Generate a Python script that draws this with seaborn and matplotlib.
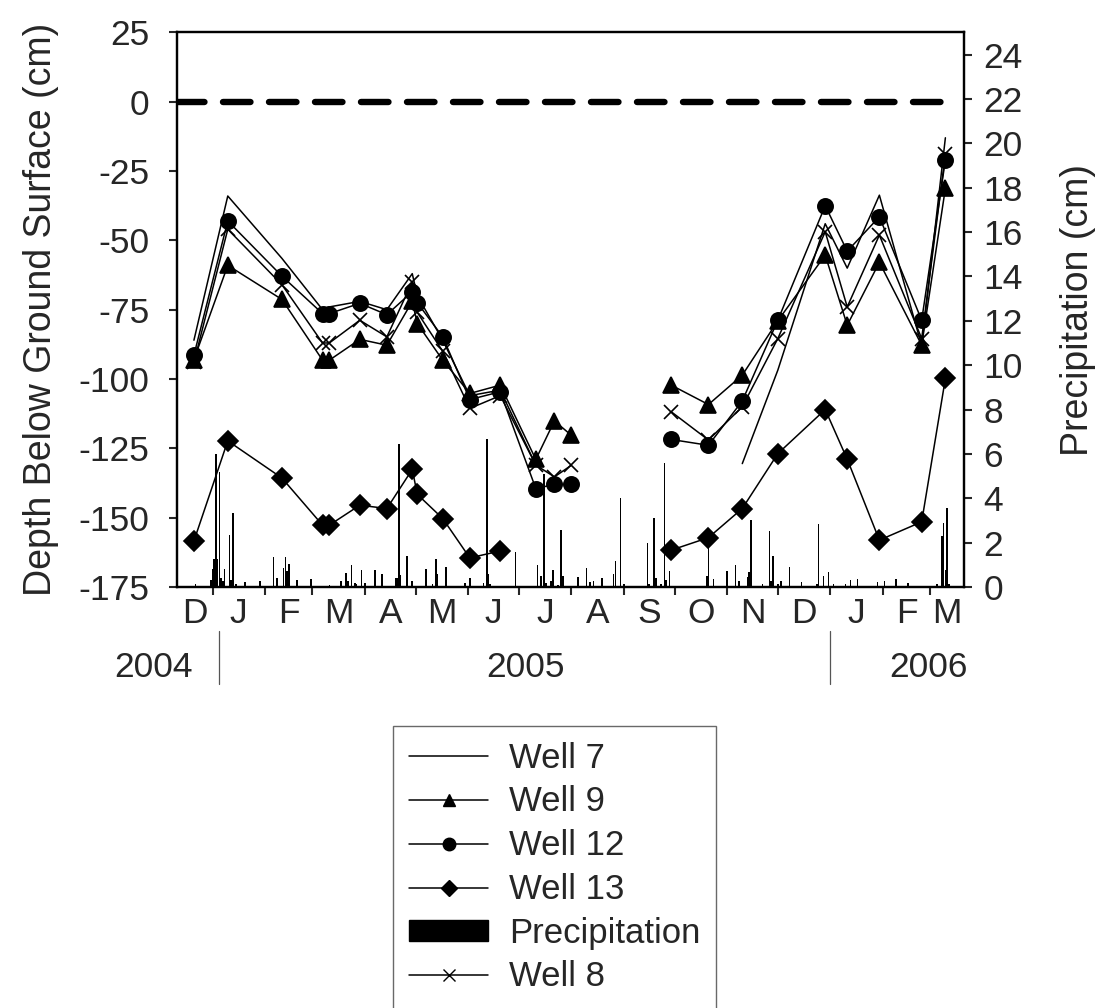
import numpy as np
import pandas as pd
import matplotlib
matplotlib.use("Agg")
import matplotlib.pyplot as plt
import matplotlib.dates as mdates
from matplotlib.lines import Line2D
from matplotlib.patches import Patch
import seaborn as sns

# ---------------- data ----------------
# well sampling dates (two monitoring periods)
dates_a = ["2004-12-21", "2005-01-10", "2005-02-11", "2005-03-07", "2005-03-11",
           "2005-03-29", "2005-04-14", "2005-04-29", "2005-05-02", "2005-05-17",
           "2005-06-02", "2005-06-20", "2005-07-11", "2005-07-22", "2005-08-01"]
dates_b = ["2005-09-29", "2005-10-21", "2005-11-10", "2005-12-01", "2005-12-29",
           "2006-01-11", "2006-01-30", "2006-02-24", "2006-03-10"]

nan = np.nan
well7_a = [-86, -34, -56.5, -75, -74, -72, -75, -62, -70, -86, -106, -104, -131, nan, nan]
well7_b = [nan, nan, -130.5, -96.8, -44, -60, -33.7, -88, -13]
well9_a = [-93, -59, -71.3, -93.2, -93.2, -85.7, -87.8, -72, -80, -93.2, -105.2, -102.2,
           -129, -115.1, -120.3]
well9_b = [-102.2, -109.2, -98.6, -79, -55.3, -80.6, -57.9, -87.8, -31.2]
well12_a = [-91.4, -43, -62.9, -76.4, -76.4, -72.7, -76.8, -68.5, -72.5, -84.8, -107.4,
            -104.6, -139.5, -138, -138]
well12_b = [-121.8, -123.9, -107.9, -78.8, -37.5, -53.9, -41.5, -78.8, -21]
well13_a = [-158.4, -122.3, -135.7, -152.7, -152.7, -145.5, -146.7, -132.6, -141.6,
            -150.3, -164.5, -162, nan, nan, nan]
well13_b = [-161.7, -157.2, -146.7, -126.9, -111, -128.9, -158.1, -151.5, -99.8]
well8_a = [-94, -46, -66, -87, -87, -78.8, -84.8, -65, -76, -90, -110.6, -106, -131,
           -135.3, -131.1]
well8_b = [-111.8, -122, -110, -85.4, -46.9, -74, -48.1, -85.4, -19]

# daily precipitation (cm), days with rain only
precip_dates = [
    "2004-12-22", "2004-12-31", "2005-01-01", "2005-01-02", "2005-01-03", "2005-01-04",
    "2005-01-05", "2005-01-06", "2005-01-07", "2005-01-08", "2005-01-11", "2005-01-12",
    "2005-01-13", "2005-01-15", "2005-01-20", "2005-01-29",
    "2005-02-06", "2005-02-08", "2005-02-12", "2005-02-13", "2005-02-14", "2005-02-15",
    "2005-02-20", "2005-02-28",
    "2005-03-11", "2005-03-18", "2005-03-21", "2005-03-22", "2005-03-24", "2005-03-26",
    "2005-03-27", "2005-03-30",
    "2005-04-01", "2005-04-07", "2005-04-11", "2005-04-19", "2005-04-20", "2005-04-21",
    "2005-04-22", "2005-04-26", "2005-04-29",
    "2005-05-07", "2005-05-11", "2005-05-13", "2005-05-14", "2005-05-19", "2005-05-30",
    "2005-06-02", "2005-06-10", "2005-06-12", "2005-06-13", "2005-06-14", "2005-06-29",
    "2005-07-12", "2005-07-14", "2005-07-16", "2005-07-17", "2005-07-20", "2005-07-21",
    "2005-07-24", "2005-07-26", "2005-07-27",
    "2005-08-05", "2005-08-10", "2005-08-12", "2005-08-14", "2005-08-19", "2005-08-26",
    "2005-08-27", "2005-08-30",
    "2005-09-01", "2005-09-15", "2005-09-16", "2005-09-19", "2005-09-20", "2005-09-23",
    "2005-09-25", "2005-09-26", "2005-09-28",
    "2005-10-20", "2005-10-21", "2005-10-24",
    "2005-11-01", "2005-11-06", "2005-11-08", "2005-11-13", "2005-11-14", "2005-11-15",
    "2005-11-22", "2005-11-26", "2005-11-27", "2005-11-28",
    "2005-12-01", "2005-12-03", "2005-12-08", "2005-12-15", "2005-12-24", "2005-12-25",
    "2005-12-28", "2005-12-31",
    "2006-01-03", "2006-01-10", "2006-01-13", "2006-01-17", "2006-01-29",
    "2006-02-02", "2006-02-09", "2006-02-16",
    "2006-03-05", "2006-03-08", "2006-03-09", "2006-03-10", "2006-03-11", "2006-03-12"]
precip_cm = [
    0.15, 0.3, 0.8, 1.25, 6.0, 1.25, 5.2, 0.4, 0.27, 0.8, 2.35, 0.3, 3.35, 0.12, 0.22, 0.27,
    1.35, 0.42, 0.87, 1.35, 0.72, 1.05, 0.3, 0.35,
    0.1, 0.28, 0.64, 0.25, 1.0, 0.18, 0.15, 0.77,
    0.18, 0.76, 0.58, 0.4, 0.42, 6.45, 0.55, 1.38, 0.25,
    0.8, 0.12, 1.27, 0.58, 0.92, 0.17,
    0.4, 0.17, 6.65, 0.58, 0.12, 1.57,
    1.0, 0.48, 5.1, 0.18, 0.27, 0.77, 0.1, 2.58, 0.48,
    0.46, 0.85, 0.23, 0.27, 0.4, 0.6, 1.15, 4.03,
    0.12, 1.97, 0.15, 3.09, 0.42, 0.12, 5.58, 0.3, 0.72,
    0.5, 2.15, 0.38,
    0.72, 1.0, 0.27, 0.45, 0.68, 3.03, 0.15, 2.53, 0.27, 1.38,
    0.12, 0.28, 0.9, 0.22, 0.12, 2.85, 0.5, 0.69,
    0.12, 0.12, 0.3, 0.34, 0.21,
    0.28, 0.36, 0.18,
    0.13, 2.28, 2.88, 0.75, 3.55, 0.12]

ground_surface_span = ["2004-12-11", "2006-03-14"]
x_range = ["2004-12-11", "2006-03-21"]
month_letters = ["D", "J", "F", "M", "A", "M", "J", "J", "A", "S", "O", "N", "D", "J", "F", "M"]
years = ["2004", "2005", "2006"]
year_label_dates = ["2004-11-27", "2005-07-05", "2006-02-28"]
year_breaks = ["2005-01-05", "2006-01-01"]

# ---------------- style ----------------
sns.set_style("ticks")
plt.rcParams["font.family"] = ["Liberation Sans", "DejaVu Sans"]
plt.rcParams["axes.unicode_minus"] = False
FS = 25.5
FS_LABEL = 27
FS_LEGEND = 25

def dnum(seq):
    return mdates.date2num(pd.to_datetime(seq))

fig = plt.figure(figsize=(11.1, 10.08), dpi=100)
ax = fig.add_axes([177 / 1110, 1 - 587 / 1008, (964 - 177) / 1110, (587 - 32.4) / 1008])
ax2 = ax.twinx()

# precipitation bars on the right axis
sns.histplot(x=dnum(precip_dates), weights=precip_cm, discrete=True, shrink=0.95,
             color="black", alpha=1, linewidth=0, ax=ax2)

# wells on the left axis
wells = [
    ("Well 7", well7_a, well7_b, None, 0),
    ("Well 9", well9_a, well9_b, "^", 11),
    ("Well 12", well12_a, well12_b, "o", 11),
    ("Well 13", well13_a, well13_b, "D", 10),
    ("Well 8", well8_a, well8_b, "x", 10),
]
for name, va, vb, mk, ms in wells:
    for dts, vals in ((dates_a, va), (dates_b, vb)):
        df = pd.DataFrame({"date": dnum(dts), "depth": vals}).dropna()
        kw = dict(color="black", linewidth=1.1)
        if mk is not None:
            kw.update(marker=mk, markersize=ms, markerfacecolor="black",
                      markeredgecolor="black", markeredgewidth=1.2)
        sns.lineplot(data=df, x="date", y="depth", ax=ax, **kw)

# ground surface reference
ax.plot(dnum(ground_surface_span), [0, 0], color="black", linewidth=4.6,
        linestyle=(0, (4.3, 2.9)), dash_capstyle="round")

ax.set_zorder(ax2.get_zorder() + 1)
ax.patch.set_visible(False)

# axes limits and ticks
x0, x1 = dnum(x_range)
ax.set_xlim(x0, x1)
ax.set_ylim(-175, 25)
ax.set_yticks(np.arange(-175, 26, 25))
ax2.set_ylim(0, 25)
ax2.set_yticks(np.arange(0, 25, 2))

month_starts = pd.date_range("2004-12-01", "2006-04-01", freq="MS")
ms_num = mdates.date2num(month_starts)
major = [m for m in ms_num if x0 < m < x1]
centers = []
for a, b in zip(ms_num[:-1], ms_num[1:]):
    lo, hi = max(a, x0), min(b, x1)
    if hi > lo:
        centers.append((lo + hi) / 2)
ax.set_xticks(major)
ax.set_xticklabels([])
ax.set_xticks(centers, minor=True)
ax.set_xticklabels(month_letters, minor=True)
ax.tick_params(axis="x", which="major", direction="out", length=6, width=1.5)
ax.tick_params(axis="x", which="minor", length=0, pad=7, labelsize=FS)
ax.tick_params(axis="y", direction="out", length=6, width=1.5, labelsize=FS, pad=14)
ax2.tick_params(axis="y", direction="out", length=6, width=1.5, labelsize=FS, pad=8)

for a_ in (ax, ax2):
    for s in a_.spines.values():
        s.set_visible(True)
        s.set_linewidth(1.6)
        s.set_color("black")

ax.set_xlabel("")
ax.set_ylabel("Depth Below Ground Surface (cm)", fontsize=FS_LABEL, labelpad=14)
ax2.set_ylabel("Precipitation (cm)", fontsize=FS_LABEL, labelpad=27)

# year annotations under the month letters
trans = ax.get_xaxis_transform()
for yr, d in zip(years, dnum(year_label_dates)):
    ax.text(d, -0.145, yr, transform=trans, ha="center", va="center",
            fontsize=FS, clip_on=False)
for d in dnum(year_breaks):
    ax.plot([d, d], [-0.08, -0.175], transform=trans, color="#555555",
            linewidth=0.9, clip_on=False)

# legend
handles = [
    Line2D([], [], color="black", lw=1.1),
    Line2D([], [], color="black", lw=1.1, marker="^", ms=9),
    Line2D([], [], color="black", lw=1.1, marker="o", ms=9),
    Line2D([], [], color="black", lw=1.1, marker="D", ms=8),
    Patch(facecolor="black", edgecolor="black"),
    Line2D([], [], color="black", lw=1.1, marker="x", ms=8, markeredgewidth=1.0),
]
labels = ["Well 7", "Well 9", "Well 12", "Well 13", "Precipitation", "Well 8"]
leg = fig.legend(handles, labels, loc="upper left",
                 bbox_to_anchor=(393 / 1110, 1 - 726 / 1008), fontsize=FS_LEGEND,
                 frameon=True, fancybox=False, edgecolor="#444444",
                 handlelength=2.3, handletextpad=0.6, labelspacing=0.31,
                 borderpad=0.45, handleheight=0.55, borderaxespad=0)
leg.get_frame().set_linewidth(1.0)

fig.savefig("out.png", dpi=100)
